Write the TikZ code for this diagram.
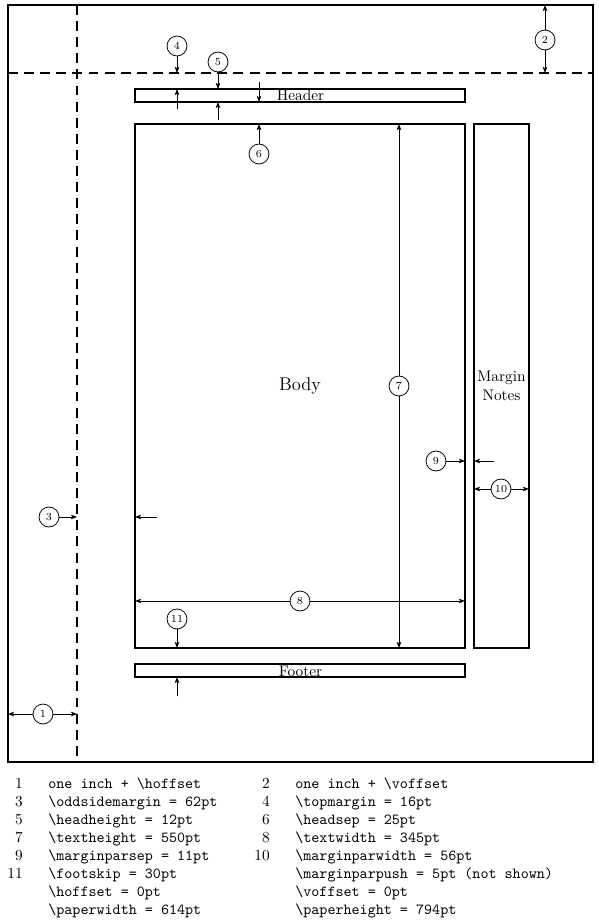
\documentclass[tikz,border=0pt]{standalone}
\usetikzlibrary{arrows.meta}
\newcommand{\cmdname}[1]{\textbackslash #1}
\tikzset{every picture/.style={x=0.652pt,y=-0.652pt}}
\tikzset{frame/.style={draw,line width=1.1pt,inner sep=0pt}}
\tikzset{guide/.style={line width=1.1pt,dash pattern=on 6.5pt off 4pt}}
\tikzset{num/.style={circle,draw,line width=0.5pt,minimum size=13pt,inner sep=0pt,font=\scriptsize}}
\tikzset{dim/.style={line width=0.5pt,-{Stealth[length=4pt,width=3pt,inset=1pt]}}}
\tikzset{key/.style={anchor=base east,inner sep=0pt}}
\tikzset{val/.style={anchor=base west,inner sep=0pt,font=\ttfamily}}
\begin{document}
\begin{tikzpicture}
\useasboundingbox (0,0) rectangle (599,921);
\node [frame,minimum width=381.4pt,minimum height=493.6pt] (page) at (300.5,383.5) {};
\node [frame,minimum width=215.2pt,minimum height=8.5pt] (head) at (300,95.5) {};
\node [frame,minimum width=215.2pt,minimum height=341.6pt,font=\large] (body) at (300,386) {Body};
\node [frame,minimum width=35.9pt,minimum height=341.6pt,align=center] (marg) at (501.5,386) {Margin\\Notes};
\node [frame,minimum width=215.2pt,minimum height=8.5pt] (foot) at (300,670.5) {};
\node (headtext) at (300.5,95.5) {Header};
\node (foottext) at (300.5,671.5) {Footer};

% one inch lines
\coordinate (vtop) at (77,5);
\coordinate (vbot) at (77,762);
\coordinate (hleft) at (8,73);
\coordinate (hright) at (593,73);
\draw [guide] (vtop) -- (vbot);
\draw [guide] (hleft) -- (hright);

\node [num] (c1) at (43,714) {1};
\node [num] (c2) at (545,40) {2};
\node [num] (c3) at (49,517) {3};
\node [num] (c4) at (177,46) {4};
\node [num] (c5) at (218,62) {5};
\node [num] (c6) at (259,154) {6};
\node [num] (c7) at (399,386) {7};
\node [num] (c8) at (300,601) {8};
\node [num] (c9) at (436,461) {9};
\node [num] (c10) at (501,489) {10};
\node [num] (c11) at (177,619) {11};

\coordinate (c1l) at (8,714);
\coordinate (c1r) at (77,714);
\coordinate (c2u) at (545,5);
\coordinate (c2d) at (545,73);
\coordinate (c3r) at (77,517);
\coordinate (o3a) at (157,517);
\coordinate (o3b) at (135,517);
\coordinate (c4d) at (177,73);
\coordinate (o4a) at (177,109);
\coordinate (o4b) at (177,89);
\coordinate (c5d) at (218,89);
\coordinate (o5a) at (218,120);
\coordinate (o5b) at (218,102);
\coordinate (c6u) at (259,124);
\coordinate (o6a) at (259,82);
\coordinate (o6b) at (259,102);
\coordinate (c7u) at (399,124);
\coordinate (c7d) at (399,648);
\coordinate (c8l) at (135,601);
\coordinate (c8r) at (465,601);
\coordinate (c9r) at (465,461);
\coordinate (o9a) at (494,461);
\coordinate (o9b) at (474,461);
\coordinate (c10l) at (474,489);
\coordinate (c10r) at (529,489);
\coordinate (c11d) at (177,648);
\coordinate (o11a) at (177,696);
\coordinate (o11b) at (177,677);

\draw [dim] (c1) -- (c1l);
\draw [dim] (c1) -- (c1r);
\draw [dim] (c2) -- (c2u);
\draw [dim] (c2) -- (c2d);
\draw [dim] (c3) -- (c3r);
\draw [dim] (o3a) -- (o3b);
\draw [dim] (c4) -- (c4d);
\draw [dim] (o4a) -- (o4b);
\draw [dim] (c5) -- (c5d);
\draw [dim] (o5a) -- (o5b);
\draw [dim] (c6) -- (c6u);
\draw [dim] (o6a) -- (o6b);
\draw [dim] (c7) -- (c7u);
\draw [dim] (c7) -- (c7d);
\draw [dim] (c8) -- (c8l);
\draw [dim] (c8) -- (c8r);
\draw [dim] (c9) -- (c9r);
\draw [dim] (o9a) -- (o9b);
\draw [dim] (c10) -- (c10l);
\draw [dim] (c10) -- (c10r);
\draw [dim] (c11) -- (c11d);
\draw [dim] (o11a) -- (o11b);

% legend
\node [key] (k1) at (23,788) {1};
\node [val] (v1) at (48,788) {one inch + \cmdname{hoffset}};
\node [key] (k2) at (270,788) {2};
\node [val] (v2) at (295,788) {one inch + \cmdname{voffset}};
\node [key] (k3) at (23,806) {3};
\node [val] (v3) at (48,806) {\cmdname{oddsidemargin} = 62pt};
\node [key] (k4) at (270,806) {4};
\node [val] (v4) at (295,806) {\cmdname{topmargin} = 16pt};
\node [key] (k5) at (23,824) {5};
\node [val] (v5) at (48,824) {\cmdname{headheight} = 12pt};
\node [key] (k6) at (270,824) {6};
\node [val] (v6) at (295,824) {\cmdname{headsep} = 25pt};
\node [key] (k7) at (23,842) {7};
\node [val] (v7) at (48,842) {\cmdname{textheight} = 550pt};
\node [key] (k8) at (270,842) {8};
\node [val] (v8) at (295,842) {\cmdname{textwidth} = 345pt};
\node [key] (k9) at (23,860) {9};
\node [val] (v9) at (48,860) {\cmdname{marginparsep} = 11pt};
\node [key] (k10) at (270,860) {10};
\node [val] (v10) at (295,860) {\cmdname{marginparwidth} = 56pt};
\node [key] (k11) at (23,878) {11};
\node [val] (v11) at (48,878) {\cmdname{footskip} = 30pt};
\node [val] (v12) at (295,878) {\cmdname{marginparpush} = 5pt (not shown)};
\node [val] (v13) at (48,896) {\cmdname{hoffset} = 0pt};
\node [val] (v14) at (295,896) {\cmdname{voffset} = 0pt};
\node [val] (v15) at (48,914) {\cmdname{paperwidth} = 614pt};
\node [val] (v16) at (295,914) {\cmdname{paperheight} = 794pt};
\end{tikzpicture}
\end{document}
